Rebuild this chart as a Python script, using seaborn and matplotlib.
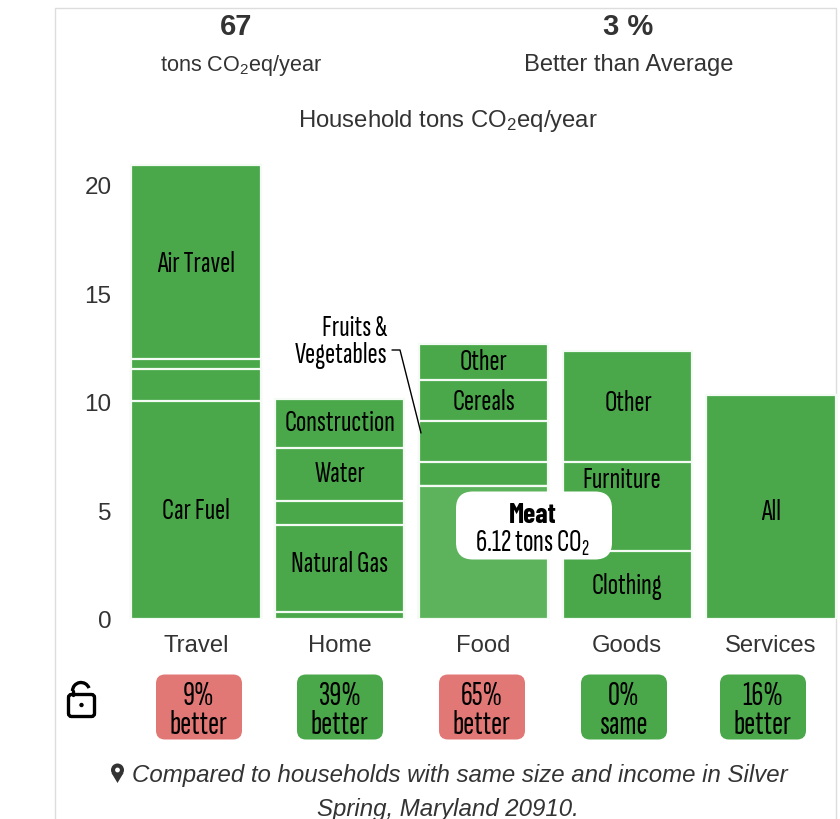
import numpy as np
import pandas as pd
import matplotlib
matplotlib.use('Agg')
import matplotlib.pyplot as plt
import seaborn as sns
from matplotlib.patches import FancyBboxPatch, Arc, Circle, Polygon

sns.set_theme(style='white')
plt.rcParams['font.family'] = ['Liberation Sans', 'DejaVu Sans']
plt.rcParams['mathtext.default'] = 'regular'

GREEN = '#4aa84a'
MEAT_GREEN = '#5cb35c'
RED = '#e27876'
DARK = '#333333'
NARROW = ['Sofia Sans Extra Condensed', 'Sofia Sans Condensed', 'Liberation Sans']
NARROW_BOLD = ['Barlow Condensed', 'Sofia Sans Condensed', 'Liberation Sans']

# data
categories = ['Travel', 'Home', 'Food', 'Goods', 'Services']
travel = [10.05, 1.45, 0.45, 8.95]
home = [0.3, 4.05, 1.1, 2.4, 2.3]
food = [6.12, 1.13, 1.85, 1.9, 1.65]
goods = [3.15, 4.1, 5.1]
services = [10.3]
segments = [travel, home, food, goods, services]

pill_top = ['9%', '39%', '65%', '0%', '16%']
pill_bottom = ['better', 'better', 'better', 'same', 'better']
pill_colors = [RED, GREEN, RED, GREEN, GREEN]
pill_left = [156, 297, 439, 581, 720]

# segment labels: x in category units, y in tons, text
labels_x = [0, 0, 1, 1, 1, 2, 2, 3.01, 2.96, 3, 4]
labels_y = [16.37, 5.0, 9.05, 6.7, 2.56, 11.85, 10.03, 9.96, 6.41, 1.54, 4.95]
labels_txt = ['Air Travel', 'Car Fuel', 'Construction', 'Water', 'Natural Gas',
              'Other', 'Cereals', 'Other', 'Furniture', 'Clothing', 'All']

rows = []
for cat, seg in zip(categories, segments):
    for level, top in enumerate(np.cumsum(seg)):
        rows.append({'cat': cat, 'level': level, 'top': top})
df = pd.DataFrame(rows)

fig = plt.figure(figsize=(8.4, 8.2), dpi=100, facecolor='white')
W, H = 840, 820

# overlay in pixel coords for everything that sits outside the bars
bg = fig.add_axes([0, 0, 1, 1], zorder=0)
bg.set_xlim(0, W)
bg.set_ylim(H, 0)
bg.axis('off')
bg.plot([54.5, 54.5, 835.5, 835.5], [H, 8.5, 8.5, H], color='#dddddd', lw=1)

x0, x1 = 124.1, 842.9
y_zero, px_per_ton = 620, 21.72
y_max = 21.5
ax = fig.add_axes([x0 / W, 1 - y_zero / H, (x1 - x0) / W, y_max * px_per_ton / H], zorder=1)
ax.patch.set_alpha(0)

# stacked bars, tallest cumulative level first
for level in sorted(df['level'].unique(), reverse=True):
    part = df[df['level'] == level]
    sns.barplot(data=part, x='cat', y='top', order=categories, color=GREEN, saturation=1,
                width=0.9, edgecolor='#f4faf4', linewidth=1.6, errorbar=None, ax=ax)
meat = df[(df['cat'] == 'Food') & (df['level'] == 0)]
sns.barplot(data=meat, x='cat', y='top', order=categories, color=MEAT_GREEN, saturation=1,
            width=0.9, edgecolor='#f4faf4', linewidth=1.6, errorbar=None, ax=ax)

ax.set_xlim(-0.5, 4.5)
ax.set_ylim(0, y_max)
ax.set_xlabel('')
ax.set_ylabel('')
ax.set_yticks([0, 5, 10, 15, 20])
ax.tick_params(axis='x', length=0, pad=10.5, labelsize=17.2, labelcolor=DARK)
ax.tick_params(axis='y', length=0, pad=9, labelsize=17.5, labelcolor=DARK)
sns.despine(ax=ax, left=True, bottom=True)

for xv, y, t in zip(labels_x, labels_y, labels_txt):
    ax.text(xv, y, t, ha='center', va='center', fontsize=22, family=NARROW, color='black')

# top over the bars: tooltip and annotation
fg = fig.add_axes([0, 0, 1, 1], zorder=2)
fg.set_xlim(0, W)
fg.set_ylim(H, 0)
fg.axis('off')


def pill(axis, left, right, top, bottom, rad, color):
    axis.add_patch(FancyBboxPatch((left + rad, top + rad), right - left - 2 * rad, bottom - top - 2 * rad,
                                  boxstyle=f'round,pad={rad},rounding_size={rad}', fc=color, ec='none'))


pill(fg, 456, 612, 492.5, 560.5, 17, 'white')
fg.text(533, 516, 'Meat', ha='center', va='center', fontsize=20, fontweight='bold', family=NARROW_BOLD, color='black')
fg.text(533, 543, '6.12 tons CO$_2$', ha='center', va='center', fontsize=22.5, family=NARROW, color='black')

fg.text(387, 329, 'Fruits &', ha='right', va='center', fontsize=22, family=NARROW, color='black')
fg.text(387, 356, 'Vegetables', ha='right', va='center', fontsize=22, family=NARROW, color='black')
fg.plot([392, 400, 421], [351, 351, 434], color='black', lw=1)

# header
fg.text(236, 27, '67', ha='center', va='center', fontsize=21, fontweight='bold', color=DARK)
fg.text(628, 27, '3 %', ha='center', va='center', fontsize=21, fontweight='bold', color=DARK)
fg.text(241, 65, 'tons CO$_2$eq/year', ha='center', va='center', fontsize=15.6, color=DARK)
fg.text(629, 65, 'Better than Average', ha='center', va='center', fontsize=17.1, color=DARK)
fg.text(448, 121, 'Household tons CO$_2$eq/year', ha='center', va='center', fontsize=17.2, color=DARK)

# comparison pills
for left, top_txt, bot_txt, col in zip(pill_left, pill_top, pill_bottom, pill_colors):
    pill(fg, left, left + 86, 675.5, 740.5, 9, col)
    fg.text(left + 43, 696, top_txt, ha='center', va='center', fontsize=24, family=NARROW, color='black')
    fg.text(left + 43, 725, bot_txt, ha='center', va='center', fontsize=24, family=NARROW, color='black')

# open lock icon
fg.add_patch(FancyBboxPatch((70, 697), 23, 19, boxstyle='round,pad=1.5,rounding_size=3', fc='none', ec='black', lw=2.4))
fg.add_patch(Circle((81.5, 706), 2.2, fc='black', ec='none'))
fg.add_patch(Arc((81, 692), 17, 17, theta1=180, theta2=340, ec='black', lw=2.4))
fg.plot([72.5, 72.5], [692, 696], color='black', lw=2.4)

# map pin icon
fg.add_patch(Circle((117.5, 771), 6.5, fc=DARK, ec='none'))
fg.add_patch(Polygon([[111.5, 774], [123.5, 774], [117.5, 784]], closed=True, fc=DARK, ec='none'))
fg.add_patch(Circle((117.5, 771), 2.4, fc='white', ec='none'))

fg.text(132, 776, 'Compared to households with same size and income in Silver', ha='left', va='center',
        fontsize=17.25, style='italic', color=DARK)
fg.text(448, 810, 'Spring, Maryland 20910.', ha='center', va='center', fontsize=17.25, style='italic', color=DARK)

fig.savefig('out.png', dpi=100)
